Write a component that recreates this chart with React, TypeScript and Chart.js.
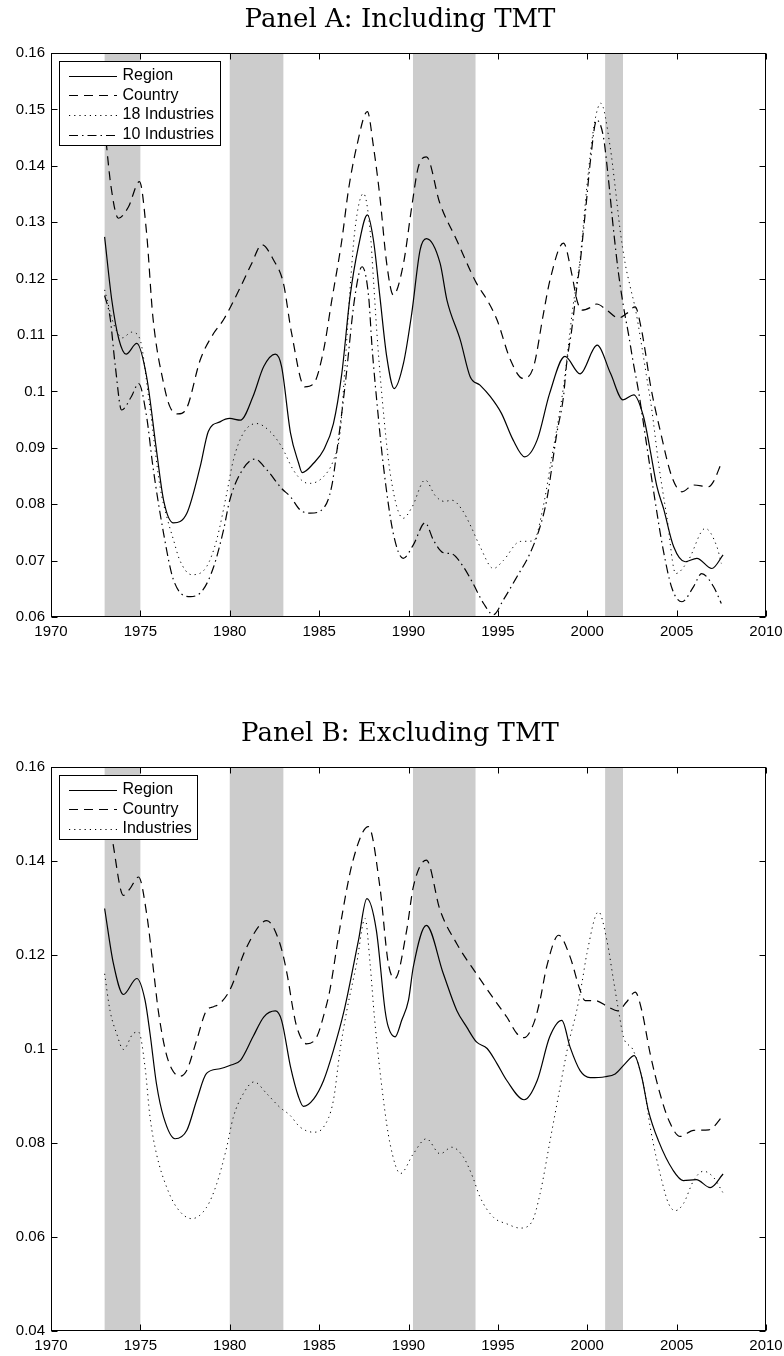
import React, { useEffect, useRef } from "react";
import { Chart, registerables } from "chart.js";

Chart.register(...registerables);

// ---------- axis ticks ----------
const xTicks = [1970, 1975, 1980, 1985, 1990, 1995, 2000, 2005, 2010];
const xTickLabels = ["1970", "1975", "1980", "1985", "1990", "1995", "2000", "2005", "2010"];
const yTicksA = [0.06, 0.07, 0.08, 0.09, 0.1, 0.11, 0.12, 0.13, 0.14, 0.15, 0.16];
const yTickLabelsA = ["0.06", "0.07", "0.08", "0.09", "0.1", "0.11", "0.12", "0.13", "0.14", "0.15", "0.16"];
const yTicksB = [0.04, 0.06, 0.08, 0.1, 0.12, 0.14, 0.16];
const yTickLabelsB = ["0.04", "0.06", "0.08", "0.1", "0.12", "0.14", "0.16"];

// ---------- shaded periods (start year, end year) ----------
const recessions: [number, number][] = [
  [1973.0, 1975.0],
  [1980.0, 1983.0],
  [1990.25, 1993.75],
  [2001.0, 2002.0],
];

const titleA = "Panel A: Including TMT";
const titleB = "Panel B: Excluding TMT";

// ---------- Panel A series: [year, value] ----------
const regionA: [number, number][] = [
  [1973.0, 0.1274], [1973.4, 0.1162], [1973.8, 0.1092], [1974.2, 0.1066], [1974.8, 0.1085],
  [1975.35, 0.1026], [1975.9, 0.0896], [1976.3, 0.0807], [1976.85, 0.0767], [1977.6, 0.0784],
  [1978.35, 0.0867], [1978.8, 0.0929], [1979.45, 0.0946], [1980.0, 0.0952], [1980.6, 0.0949],
  [1981.3, 0.0991], [1981.9, 0.1044], [1982.55, 0.1066], [1982.9, 0.1044], [1983.4, 0.0926],
  [1983.85, 0.0873], [1984.05, 0.0856], [1984.7, 0.0873], [1985.25, 0.0896], [1985.8, 0.0943],
  [1986.27, 0.1032], [1986.73, 0.1168], [1987.2, 0.1257], [1987.7, 0.1313], [1988.04, 0.1268],
  [1988.4, 0.1168], [1988.78, 0.1062], [1989.2, 0.1005], [1989.72, 0.105], [1990.18, 0.1138],
  [1990.65, 0.1251], [1991.0, 0.1271], [1991.77, 0.1227], [1992.15, 0.1162], [1992.9, 0.1091],
  [1993.45, 0.1026], [1994.0, 0.1011], [1994.57, 0.0991], [1995.2, 0.0961], [1995.85, 0.0914],
  [1996.5, 0.0884], [1997.2, 0.0914], [1997.9, 0.0997], [1998.75, 0.1062], [1999.6, 0.1031],
  [2000.55, 0.1082], [2001.3, 0.1032], [2002.0, 0.0985], [2002.6, 0.0994], [2003.15, 0.0955],
  [2003.52, 0.0896], [2003.9, 0.0831], [2004.27, 0.0792], [2004.83, 0.0725], [2005.48, 0.0698],
  [2006.13, 0.0704], [2006.97, 0.0686], [2007.6, 0.071],
];

const countryA: [number, number][] = [
  [1973.0, 0.147], [1973.35, 0.1365], [1973.77, 0.1307], [1974.33, 0.1327], [1974.95, 0.1372],
  [1975.35, 0.128], [1975.7, 0.1132], [1976.3, 0.1014], [1976.65, 0.0973], [1977.1, 0.096],
  [1977.6, 0.0971], [1978.35, 0.1056], [1979.1, 0.1103], [1979.65, 0.1127], [1980.6, 0.1185],
  [1981.2, 0.1225], [1981.8, 0.126], [1982.45, 0.1233], [1983.0, 0.1192], [1983.45, 0.1105],
  [1984.2, 0.1008], [1984.7, 0.1014], [1985.25, 0.1073], [1985.7, 0.116], [1986.27, 0.1268],
  [1986.64, 0.1357], [1987.1, 0.1434], [1987.7, 0.1496], [1988.04, 0.1434], [1988.4, 0.1345],
  [1988.78, 0.1227], [1989.15, 0.1171], [1989.72, 0.1227], [1990.18, 0.1327], [1990.55, 0.1398],
  [1991.0, 0.1416], [1991.75, 0.1334], [1992.7, 0.1268], [1993.8, 0.1192], [1994.4, 0.1162],
  [1994.95, 0.1127], [1995.7, 0.1056], [1996.4, 0.1023], [1997.0, 0.1044], [1997.55, 0.1138],
  [1997.92, 0.1198], [1998.67, 0.1263], [1999.13, 0.1209], [1999.42, 0.1162], [1999.7, 0.1144],
  [2000.26, 0.115], [2000.53, 0.1155], [2001.1, 0.1144], [2001.75, 0.113], [2002.2, 0.1138],
  [2002.68, 0.115], [2003.0, 0.1115], [2003.25, 0.107], [2003.52, 0.1014], [2004.07, 0.0932],
  [2004.73, 0.0849], [2005.3, 0.0822], [2005.95, 0.0834], [2006.8, 0.0831], [2007.06, 0.084],
  [2007.5, 0.0873],
];

const ind18A: [number, number][] = [
  [1973.0, 0.118], [1973.5, 0.112], [1974.0, 0.1095], [1974.5, 0.1105], [1974.95, 0.1095],
  [1975.5, 0.098], [1976.1, 0.0831], [1976.5, 0.0775], [1976.85, 0.0737], [1977.2, 0.0701],
  [1977.87, 0.0675], [1978.7, 0.0689], [1979.27, 0.0737], [1979.83, 0.0819], [1980.2, 0.0878],
  [1980.76, 0.0926], [1981.5, 0.0943], [1982.25, 0.0929], [1982.9, 0.0902], [1983.55, 0.0861],
  [1984.12, 0.084], [1984.5, 0.0837], [1985.25, 0.0849], [1985.8, 0.0878], [1986.17, 0.0926],
  [1986.45, 0.1045], [1986.7, 0.1168], [1987.0, 0.1286], [1987.48, 0.1351], [1987.85, 0.1286],
  [1988.04, 0.1198], [1988.22, 0.1109], [1988.5, 0.0997], [1989.0, 0.085], [1989.7, 0.0775],
  [1990.2, 0.0795], [1990.93, 0.0843], [1991.5, 0.0815], [1992.0, 0.0805], [1992.43, 0.0807],
  [1993.0, 0.079], [1993.5, 0.076], [1994.0, 0.0725], [1994.75, 0.0686], [1995.3, 0.07],
  [1996.25, 0.0734], [1997.0, 0.0735], [1997.5, 0.079], [1998.0, 0.088], [1998.67, 0.1008],
  [1999.2, 0.115], [1999.6, 0.1235], [2000.0, 0.137], [2000.4, 0.1475], [2000.76, 0.1511],
  [2001.28, 0.1434], [2001.56, 0.1363], [2001.84, 0.1286], [2002.12, 0.1227], [2002.4, 0.1186],
  [2002.7, 0.1145], [2003.0, 0.109], [2003.3, 0.103], [2003.6, 0.097], [2004.0, 0.087],
  [2004.45, 0.0778], [2004.95, 0.0677], [2005.66, 0.0701], [2006.6, 0.0757], [2007.25, 0.0725],
  [2007.5, 0.0695],
];

const ind10A: [number, number][] = [
  [1973.0, 0.117], [1973.3, 0.1132], [1973.6, 0.1044], [1973.95, 0.0967], [1974.5, 0.0991],
  [1974.9, 0.1014], [1975.35, 0.0955], [1975.7, 0.0867], [1976.3, 0.0748], [1976.85, 0.0666],
  [1977.8, 0.0636], [1978.5, 0.0648], [1979.1, 0.0689], [1979.65, 0.0754], [1980.0, 0.0807],
  [1980.6, 0.0855], [1981.4, 0.088], [1982.07, 0.0861], [1982.9, 0.0828], [1983.4, 0.0813],
  [1983.93, 0.079], [1984.5, 0.0784], [1985.25, 0.0793], [1985.7, 0.0831], [1986.0, 0.0896],
  [1986.45, 0.101], [1987.0, 0.1168], [1987.4, 0.1221], [1987.77, 0.1168], [1987.96, 0.1079],
  [1988.22, 0.0985], [1988.6, 0.0867], [1989.15, 0.0748], [1989.7, 0.0704], [1990.27, 0.0728],
  [1990.93, 0.0767], [1991.4, 0.0736], [1991.95, 0.0714], [1992.42, 0.0712], [1993.07, 0.0689],
  [1993.6, 0.066], [1994.2, 0.0624], [1994.75, 0.0604], [1995.3, 0.063], [1996.06, 0.0671],
  [1996.8, 0.0713], [1997.36, 0.076], [1997.73, 0.0807], [1998.3, 0.0926], [1998.67, 0.0991],
  [1998.85, 0.105], [1999.13, 0.1109], [1999.42, 0.1186], [1999.6, 0.1227], [1999.79, 0.1286],
  [1999.98, 0.1345], [2000.16, 0.1404], [2000.53, 0.1481], [2000.9, 0.1452], [2001.19, 0.1375],
  [2001.47, 0.1286], [2001.75, 0.1209], [2002.03, 0.115], [2002.3, 0.1103], [2002.58, 0.105],
  [2002.86, 0.1002], [2003.3, 0.091], [2003.8, 0.0805], [2004.25, 0.0719], [2004.75, 0.065],
  [2005.3, 0.0627], [2005.95, 0.0654], [2006.4, 0.0677], [2007.06, 0.0654], [2007.5, 0.0624],
];

// ---------- Panel B series ----------
const regionB: [number, number][] = [
  [1973.0, 0.1299], [1973.49, 0.1182], [1974.05, 0.1116], [1974.8, 0.115], [1975.26, 0.1104],
  [1975.54, 0.1033], [1975.9, 0.0926], [1976.3, 0.0855], [1976.94, 0.0809], [1977.6, 0.0827],
  [1978.15, 0.0891], [1978.7, 0.0948], [1979.45, 0.0958], [1980.0, 0.0965], [1980.6, 0.0976],
  [1981.3, 0.1026], [1981.9, 0.1068], [1982.55, 0.1081], [1982.9, 0.1061], [1983.4, 0.0962],
  [1983.85, 0.0898], [1984.12, 0.0878], [1984.7, 0.0894], [1985.25, 0.0933], [1985.8, 0.0997],
  [1986.4, 0.1082], [1987.2, 0.1231], [1987.67, 0.132], [1988.2, 0.1253], [1988.69, 0.1082],
  [1988.87, 0.1047], [1989.25, 0.1026], [1989.62, 0.1061], [1990.0, 0.1104], [1990.27, 0.1175],
  [1991.0, 0.1263], [1991.95, 0.116], [1992.7, 0.1082], [1993.25, 0.1047], [1993.8, 0.1015],
  [1994.4, 0.1001], [1994.95, 0.0969], [1995.5, 0.0933], [1996.47, 0.0892], [1997.2, 0.0933],
  [1997.9, 0.1026], [1998.58, 0.1061], [1999.04, 0.1004], [1999.6, 0.0954], [2000.16, 0.0939],
  [2001.0, 0.0941], [2001.56, 0.0947], [2002.12, 0.0969], [2002.63, 0.0986], [2003.05, 0.094],
  [2003.42, 0.0869], [2003.98, 0.0805], [2004.8, 0.0742], [2005.37, 0.072], [2006.1, 0.0722],
  [2006.88, 0.0705], [2007.6, 0.0734],
];

const countryB: [number, number][] = [
  [1973.0, 0.153], [1973.4, 0.1452], [1974.05, 0.1327], [1974.4, 0.134], [1974.9, 0.1366],
  [1975.35, 0.1288], [1975.8, 0.1146], [1976.0, 0.1082], [1976.4, 0.0997], [1976.75, 0.0958],
  [1977.2, 0.0942], [1977.6, 0.0955], [1978.15, 0.1019], [1978.7, 0.1082], [1979.1, 0.109],
  [1979.45, 0.1097], [1980.0, 0.1125], [1980.95, 0.1217], [1982.07, 0.1273], [1982.8, 0.1225],
  [1983.2, 0.1161], [1983.55, 0.1082], [1983.75, 0.1047], [1984.3, 0.1011], [1984.87, 0.1026],
  [1985.33, 0.1082], [1985.6, 0.1125], [1986.17, 0.126], [1986.9, 0.1402], [1987.76, 0.1473],
  [1988.4, 0.1345], [1988.87, 0.1182], [1989.25, 0.115], [1989.9, 0.1253], [1990.27, 0.1345],
  [1991.0, 0.1402], [1991.77, 0.1295], [1992.7, 0.1224], [1993.8, 0.116], [1994.95, 0.1097],
  [1995.5, 0.1068], [1996.06, 0.1033], [1996.47, 0.1024], [1997.0, 0.1054], [1997.36, 0.1104],
  [1997.73, 0.1175], [1998.4, 0.1242], [1999.04, 0.1196], [1999.6, 0.1125], [1999.88, 0.1103],
  [2000.44, 0.1103], [2001.19, 0.1089], [2001.7, 0.1081], [2002.2, 0.11], [2002.68, 0.1121],
  [2003.05, 0.1082], [2003.52, 0.099], [2004.07, 0.0905], [2004.6, 0.0845], [2005.2, 0.0814],
  [2005.95, 0.0827], [2006.8, 0.0828], [2007.06, 0.0834], [2007.6, 0.0859],
];

const industriesB: [number, number][] = [
  [1973.0, 0.116], [1973.3, 0.1082], [1973.67, 0.1033], [1974.05, 0.0999], [1974.6, 0.1033],
  [1974.9, 0.1036], [1975.26, 0.0962], [1975.54, 0.0855], [1975.9, 0.0777], [1976.47, 0.0706],
  [1977.03, 0.0663], [1977.87, 0.0639], [1978.7, 0.0663], [1979.27, 0.0713], [1979.83, 0.0791],
  [1980.2, 0.0855], [1980.76, 0.0905], [1981.36, 0.093], [1982.07, 0.0905], [1982.8, 0.0876],
  [1983.37, 0.0859], [1983.93, 0.0834], [1984.68, 0.0823], [1985.25, 0.0834], [1985.8, 0.0891],
  [1986.17, 0.0997], [1986.55, 0.1082], [1987.1, 0.1182], [1987.57, 0.1278], [1987.85, 0.1182],
  [1988.1, 0.1065], [1988.6, 0.0891], [1988.97, 0.0798], [1989.55, 0.0735], [1990.27, 0.0777],
  [1991.0, 0.0809], [1991.77, 0.0777], [1992.42, 0.0791], [1993.07, 0.077], [1993.6, 0.0727],
  [1994.0, 0.0685], [1994.75, 0.0642], [1995.5, 0.0628], [1996.25, 0.0619], [1996.9, 0.0632],
  [1997.36, 0.0692], [1997.92, 0.0805], [1998.48, 0.0919], [1998.95, 0.1011], [1999.4, 0.108],
  [1999.7, 0.114], [1999.98, 0.1203], [2000.63, 0.1292], [2001.1, 0.1231], [2001.47, 0.1146],
  [2001.75, 0.1082], [2002.03, 0.1025], [2002.55, 0.0999], [2002.96, 0.0954], [2003.24, 0.0905],
  [2003.52, 0.0834], [2004.17, 0.072], [2004.55, 0.0671], [2004.92, 0.0656], [2005.38, 0.0671],
  [2005.95, 0.072], [2006.5, 0.074], [2007.06, 0.0727], [2007.58, 0.0695],
];

// ---------- line styles ----------
const SOLID: number[] = [];
const DASHED = [9, 6];
const DOTTED = [1.2, 4];
const DASHDOT = [9, 4, 1.5, 4];

type Series = { label: string; data: [number, number][]; dash: number[]; width: number };

const seriesA: Series[] = [
  { label: "Region", data: regionA, dash: SOLID, width: 1.2 },
  { label: "Country", data: countryA, dash: DASHED, width: 1.2 },
  { label: "18 Industries", data: ind18A, dash: DOTTED, width: 1 },
  { label: "10 Industries", data: ind10A, dash: DASHDOT, width: 1.2 },
];

const seriesB: Series[] = [
  { label: "Region", data: regionB, dash: SOLID, width: 1.2 },
  { label: "Country", data: countryB, dash: DASHED, width: 1.2 },
  { label: "Industries", data: industriesB, dash: DOTTED, width: 1 },
];

// ---------- plugins ----------
const bandsPlugin = {
  id: "bands",
  beforeDatasetsDraw(chart: any) {
    const { ctx, chartArea, scales } = chart;
    const x = scales.x;
    ctx.save();
    ctx.fillStyle = "#cccccc";
    recessions.forEach(([a, b]) => {
      const x0 = x.getPixelForValue(a);
      const x1 = x.getPixelForValue(b);
      ctx.fillRect(x0, chartArea.top, x1 - x0, chartArea.bottom - chartArea.top);
    });
    ctx.restore();
  },
};

const legendBoxPlugin = {
  id: "legendBox",
  afterDatasetsDraw(chart: any) {
    const { ctx, chartArea } = chart;
    const datasets = chart.data.datasets;
    const rowH = 19.7;
    ctx.save();
    ctx.font = '16px "Liberation Sans", Arial, sans-serif';
    let tw = 0;
    datasets.forEach((d: any) => {
      tw = Math.max(tw, ctx.measureText(d.label).width);
    });
    const x0 = Math.round(chartArea.left + 8) + 0.5;
    const y0 = Math.round(chartArea.top + 7.5) + 0.5;
    const w = Math.round(63 + tw + 6);
    const h = Math.round(datasets.length * rowH + 5);
    ctx.fillStyle = "#ffffff";
    ctx.fillRect(x0, y0, w, h);
    ctx.lineWidth = 1;
    ctx.strokeStyle = "#000";
    ctx.setLineDash([]);
    ctx.strokeRect(x0, y0, w, h);
    datasets.forEach((d: any, i: number) => {
      const cy = y0 + 4.2 + rowH * (i + 0.5);
      ctx.beginPath();
      ctx.setLineDash(d.borderDash || []);
      ctx.lineWidth = d.borderWidth;
      ctx.strokeStyle = "#000";
      ctx.moveTo(x0 + 9.5, Math.round(cy) + 0.5);
      ctx.lineTo(x0 + 57.5, Math.round(cy) + 0.5);
      ctx.stroke();
      ctx.setLineDash([]);
      ctx.fillStyle = "#000";
      ctx.textBaseline = "middle";
      ctx.textAlign = "left";
      ctx.fillText(d.label, x0 + 63, cy);
    });
    ctx.restore();
  },
};

const framePlugin = {
  id: "frame",
  afterDraw(chart: any) {
    const { ctx, chartArea, scales } = chart;
    const L = Math.round(chartArea.left) + 0.5;
    const R = Math.round(chartArea.right) - 0.5;
    const T = Math.round(chartArea.top) + 0.5;
    const B = Math.round(chartArea.bottom) - 0.5;
    const tl = 6;
    ctx.save();
    ctx.strokeStyle = "#000";
    ctx.lineWidth = 1;
    ctx.setLineDash([]);
    ctx.beginPath();
    scales.x.ticks.forEach((t: any) => {
      const px = Math.round(scales.x.getPixelForValue(t.value)) + 0.5;
      ctx.moveTo(px, B);
      ctx.lineTo(px, B - tl);
      ctx.moveTo(px, T);
      ctx.lineTo(px, T + tl);
    });
    scales.y.ticks.forEach((t: any) => {
      const py = Math.round(scales.y.getPixelForValue(t.value)) + 0.5;
      ctx.moveTo(L, py);
      ctx.lineTo(L + tl, py);
      ctx.moveTo(R, py);
      ctx.lineTo(R - tl, py);
    });
    ctx.stroke();
    ctx.strokeRect(L, T, R - L, B - T);
    ctx.restore();
  },
};

// Panel heading, centred at x = 400 as in the reference
const headingPlugin = {
  id: "heading",
  afterDraw(chart: any, _args: any, opts: any) {
    if (!opts || !opts.text) return;
    const { ctx } = chart;
    ctx.save();
    ctx.font = '26px "DejaVu Serif", serif';
    ctx.fillStyle = "#000";
    ctx.textAlign = "center";
    ctx.textBaseline = "alphabetic";
    ctx.fillText(opts.text, 400, 27);
    ctx.restore();
  },
};

function makeConfig(
  title: string,
  series: Series[],
  yMin: number,
  yMax: number,
  yTicks: number[],
  yLabels: string[]
): any {
  return {
    type: "line",
    data: {
      datasets: series.map((s) => ({
        label: s.label,
        data: s.data.map(([x, y]) => ({ x, y })),
        borderColor: "#000",
        backgroundColor: "#000",
        borderWidth: s.width,
        borderDash: s.dash,
        pointRadius: 0,
        fill: false,
        cubicInterpolationMode: "monotone",
      })),
    },
    options: {
      responsive: false,
      maintainAspectRatio: false,
      animation: false,
      events: [],
      layout: { padding: { left: 0, right: 18, top: 53, bottom: 1 } },
      plugins: {
        legend: { display: false },
        tooltip: { enabled: false },
        title: { display: false },
        heading: { text: title },
      },
      scales: {
        x: {
          type: "linear",
          min: 1970,
          max: 2010,
          grid: { display: false, drawTicks: false },
          border: { display: false },
          afterBuildTicks: (s: any) => {
            s.ticks = xTicks.map((v) => ({ value: v }));
          },
          afterFit: (s: any) => {
            s.height = 24;
            s.paddingLeft = 0;
            s.paddingRight = 0;
          },
          ticks: {
            autoSkip: false,
            maxRotation: 0,
            padding: 6,
            color: "#000",
            font: { family: '"Liberation Sans", Arial, sans-serif', size: 15 },
            callback: (v: number) => {
              const i = xTicks.indexOf(v);
              return i >= 0 ? xTickLabels[i] : "";
            },
          },
        },
        y: {
          type: "linear",
          min: yMin,
          max: yMax,
          grid: { display: false, drawTicks: false },
          border: { display: false },
          afterBuildTicks: (s: any) => {
            s.ticks = yTicks.map((v) => ({ value: v }));
          },
          afterFit: (s: any) => {
            s.width = 51;
            s.paddingTop = 0;
            s.paddingBottom = 0;
          },
          ticks: {
            autoSkip: false,
            padding: 6,
            color: "#000",
            font: { family: '"Liberation Sans", Arial, sans-serif', size: 15 },
            callback: (v: number) => {
              const i = yTicks.indexOf(v);
              return i >= 0 ? yLabels[i] : "";
            },
          },
        },
      },
    },
    plugins: [bandsPlugin, legendBoxPlugin, framePlugin, headingPlugin],
  };
}

function Panel(props: {
  top: number;
  title: string;
  series: Series[];
  yMin: number;
  yMax: number;
  yTicks: number[];
  yLabels: string[];
}) {
  const ref = useRef<HTMLCanvasElement | null>(null);
  useEffect(() => {
    if (!ref.current) return;
    const chart = new Chart(
      ref.current,
      makeConfig(props.title, props.series, props.yMin, props.yMax, props.yTicks, props.yLabels)
    );
    return () => chart.destroy();
  }, []);
  return (
    <canvas
      ref={ref}
      width={784}
      height={642}
      style={{ position: "absolute", left: 0, top: props.top, width: 784, height: 642, display: "block" }}
    />
  );
}

export default function App() {
  return (
    <div style={{ position: "absolute", left: 0, top: 0, width: 784, height: 1356, background: "#ffffff", overflow: "hidden" }}>
      <Panel top={0} title={titleA} series={seriesA} yMin={0.06} yMax={0.16} yTicks={yTicksA} yLabels={yTickLabelsA} />
      <Panel top={714} title={titleB} series={seriesB} yMin={0.04} yMax={0.16} yTicks={yTicksB} yLabels={yTickLabelsB} />
    </div>
  );
}
